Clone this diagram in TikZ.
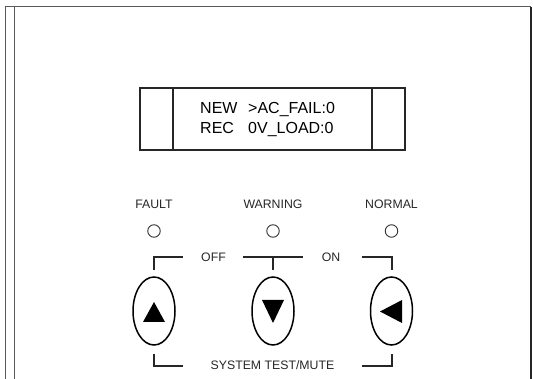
\documentclass[tikz,border=0pt]{standalone}
\usepackage{fontspec}
\setmainfont{Liberation Sans}
\usetikzlibrary{shapes.geometric}
\begin{document}
\begin{tikzpicture}[x=1pt,y=-1pt,
  frame/.style={draw=black!65,line width=1pt},
  lcd/.style={draw=black!85,line width=1.1pt},
  lcdtext/.style={font=\fontsize{16}{16}\selectfont,anchor=base west,inner sep=0pt},
  lbl/.style={font=\fontsize{12.3}{12}\selectfont,inner sep=1pt,text=black!85},
  led/.style={circle,draw=black!80,line width=0.9pt,minimum size=12.5pt,inner sep=0pt},
  key/.style={ellipse,draw=black,line width=1.5pt,minimum width=42pt,minimum height=68pt,inner sep=0pt},
  brk/.style={draw=black!85,line width=2.2pt},
  tri/.style={fill=black}]
\useasboundingbox (0,0) rectangle (533,379);
% outer frame
\draw[frame] (5,379) -- (5,7) -- (531,7);
\draw[frame] (14,379) -- (14,7);
\draw[draw=black!85,line width=1.1pt] (531,7) -- (531,379);
% LCD
\draw[lcd] (140,88) rectangle (405,150);
\draw[lcd] (173,88) -- (173,150);
\draw[lcd] (372,88) -- (372,150);
\node[lcdtext] (new) at (200,114) {NEW};
\node[lcdtext] (rec) at (200,134) {REC};
\node[lcdtext] (acf) at (248,114) {>AC\_FAIL:0};
\node[lcdtext] (ovl) at (248,134) {0V\_LOAD:0};
% LEDs and labels
\node[lbl,anchor=base] (lf) at (154,209) {FAULT};
\node[lbl,anchor=base] (lw) at (273,209) {WARNING};
\node[lbl,anchor=base] (ln) at (391.5,209) {NORMAL};
\node[led] (f) at (154,231) {};
\node[led] (w) at (273,231) {};
\node[led] (n) at (391.5,231) {};
% keys
\node[key] (up) at (154,311) {};
\node[key] (dn) at (273,311) {};
\node[key] (lt) at (391.5,311) {};
\fill[tri] (143,322) -- (165,322) -- (154,302) -- cycle;
\fill[tri] (262,300) -- (284,300) -- (273,323) -- cycle;
\fill[tri] (380,311.5) -- (402,300) -- (402,323) -- cycle;
% brackets
\node[lbl,anchor=base] (off) at (213.5,262) {OFF};
\node[lbl,anchor=base] (on) at (331,262) {ON};
\node[lbl,anchor=base] (stm) at (272.5,370) {SYSTEM TEST/MUTE};
\coordinate (tl) at (183,257);
\coordinate (tm1) at (243,257);
\coordinate (tm2) at (303,257);
\coordinate (tr) at (362,257);
\coordinate (bl) at (183,366);
\coordinate (br) at (362,366);
\draw[brk] (154,270) -- (154,257) -- (tl);
\draw[brk] (tm1) -- (tm2);
\draw[brk] (273,257) -- (273,270);
\draw[brk] (tr) -- (392,257) -- (392,270);
\draw[brk] (154,354) -- (154,366) -- (bl);
\draw[brk] (br) -- (392,366) -- (392,354);
\end{tikzpicture}
\end{document}
